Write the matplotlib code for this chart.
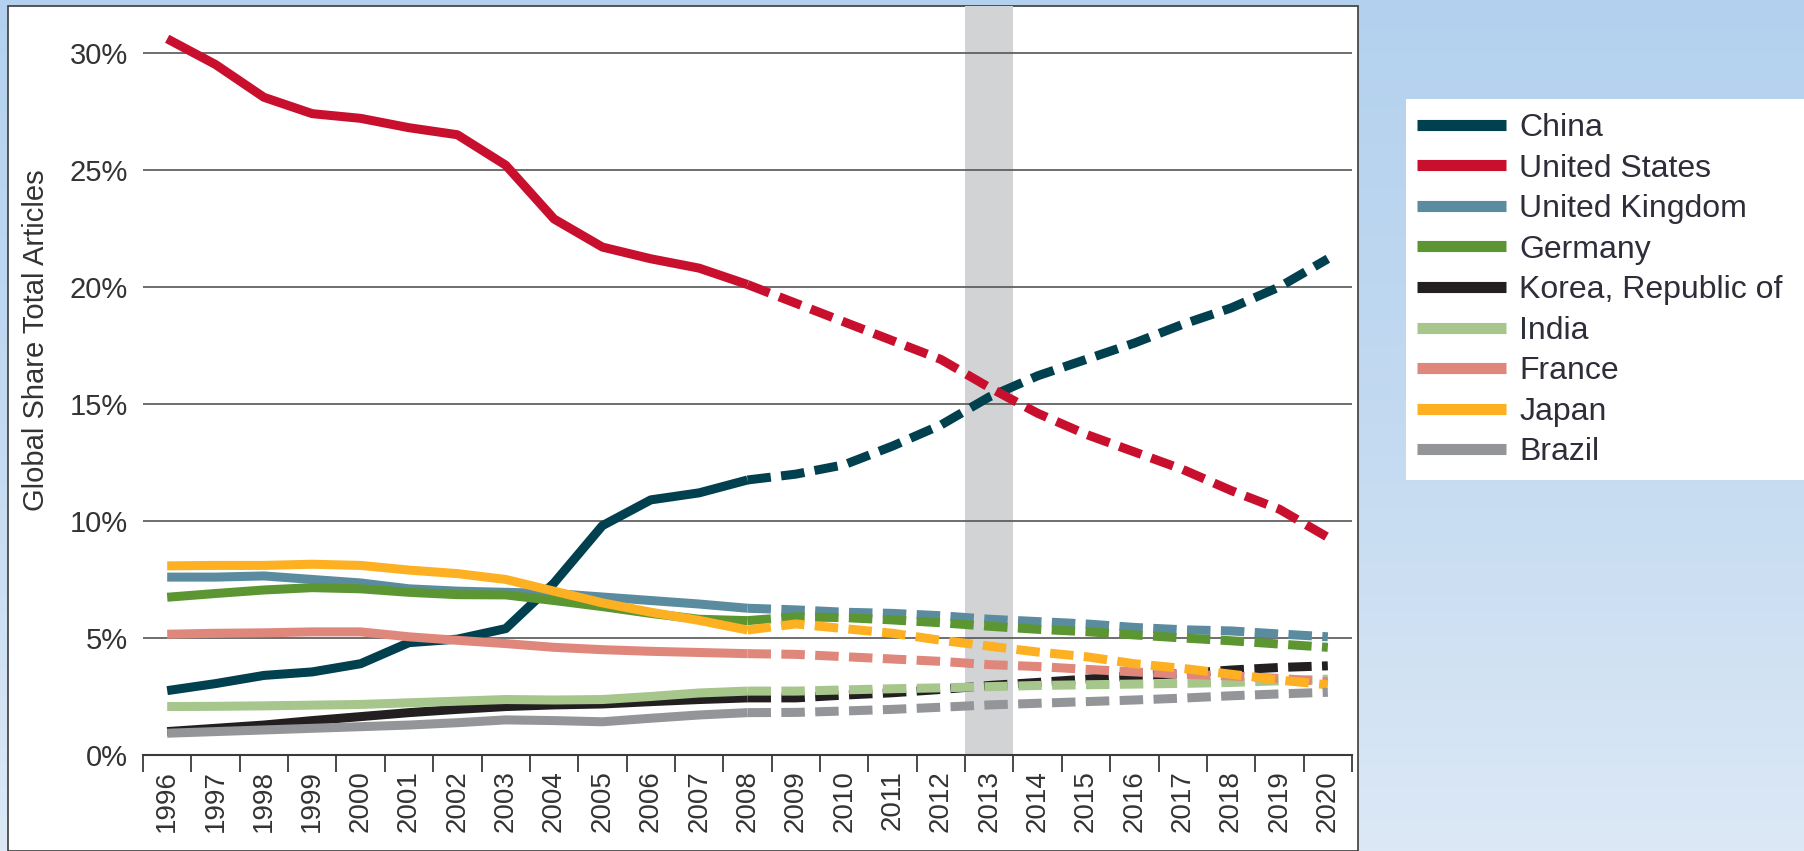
import numpy as np
import matplotlib
matplotlib.use("Agg")
import matplotlib.pyplot as plt
from matplotlib.colors import LinearSegmentedColormap
from matplotlib.patches import Rectangle

plt.rcParams["font.family"] = ["Liberation Sans", "DejaVu Sans"]

# Data: global share of total articles (%), 1996-2008 actual, 2008-2020 projected
years = [str(y) for y in range(1996, 2021)]
countries = ["China", "United States", "United Kingdom", "Germany",
             "Korea, Republic of", "India", "France", "Japan", "Brazil"]

china = [2.75, 3.05, 3.4, 3.55, 3.9, 4.8, 4.95, 5.4, 7.35, 9.8, 10.9, 11.2, 11.75,
         12.0, 12.4, 13.2, 14.1, 15.3, 16.2, 16.9, 17.6, 18.4, 19.1, 20.0, 21.2]
usa = [30.6, 29.5, 28.1, 27.4, 27.2, 26.8, 26.5, 25.2, 22.9, 21.7, 21.2, 20.8, 20.1,
       19.3, 18.5, 17.7, 16.9, 15.7, 14.6, 13.7, 12.95, 12.2, 11.3, 10.5, 9.3]
uk = [7.6, 7.6, 7.65, 7.5, 7.35, 7.1, 7.0, 6.95, 6.9, 6.75, 6.6, 6.45, 6.27,
      6.2, 6.1, 6.05, 5.95, 5.8, 5.7, 5.6, 5.45, 5.35, 5.3, 5.17, 5.05]
germany = [6.74, 6.9, 7.05, 7.15, 7.1, 6.95, 6.85, 6.84, 6.6, 6.34, 6.05, 5.8, 5.74,
           5.9, 5.87, 5.77, 5.65, 5.5, 5.37, 5.27, 5.13, 5.0, 4.88, 4.74, 4.6]
korea = [1.0, 1.14, 1.28, 1.47, 1.64, 1.81, 1.95, 2.07, 2.14, 2.18, 2.28, 2.37, 2.44,
         2.44, 2.56, 2.66, 2.8, 2.97, 3.1, 3.24, 3.38, 3.48, 3.63, 3.74, 3.81]
india = [2.07, 2.08, 2.1, 2.13, 2.16, 2.23, 2.3, 2.37, 2.35, 2.37, 2.5, 2.65, 2.73,
         2.73, 2.78, 2.83, 2.87, 2.92, 2.97, 3.0, 3.03, 3.06, 3.1, 3.17, 3.24]
france = [5.16, 5.2, 5.22, 5.26, 5.26, 5.05, 4.9, 4.76, 4.6, 4.5, 4.43, 4.38, 4.33,
          4.3, 4.2, 4.1, 4.0, 3.86, 3.78, 3.66, 3.55, 3.45, 3.38, 3.27, 3.13]
japan = [8.08, 8.1, 8.1, 8.15, 8.1, 7.9, 7.75, 7.5, 7.0, 6.5, 6.1, 5.75, 5.34,
         5.6, 5.4, 5.2, 4.9, 4.65, 4.4, 4.2, 3.9, 3.7, 3.45, 3.2, 3.0]
brazil = [0.93, 1.0, 1.07, 1.14, 1.21, 1.28, 1.38, 1.5, 1.47, 1.42, 1.57, 1.71, 1.81,
          1.82, 1.88, 1.95, 2.04, 2.14, 2.21, 2.28, 2.35, 2.43, 2.53, 2.61, 2.68]

series = [china, usa, uk, germany, korea, india, france, japan, brazil]
colors = ["#00404F", "#C8102E", "#5B8B9F", "#5C9632", "#231F20",
          "#A6C68C", "#E0877C", "#FDB022", "#939598"]
last_actual = "2008"
highlight = "2013"

W, H = 1804, 851


def fx(px):
    return px / W


def fy(py):
    return 1 - py / H


fig = plt.figure(figsize=(W / 100, H / 100), dpi=100)

# light blue backdrop
bg = fig.add_axes([0, 0, 1, 1], zorder=-10)
cmap = LinearSegmentedColormap.from_list("bg", ["#B3D1EE", "#C3DAF1", "#DCE8F6"])
bg.imshow(np.linspace(0, 1, 256).reshape(-1, 1), aspect="auto", cmap=cmap,
          extent=[0, 1, 0, 1])
bg.set_axis_off()

# white chart panel and legend box
fig.patches.append(Rectangle((fx(8), 0), fx(1358) - fx(8), fy(6), transform=fig.transFigure,
                             fc="white", ec="#3C3C3C", lw=1.2, zorder=-5))
fig.patches.append(Rectangle((fx(1406), fy(480)), 1 - fx(1406), fy(99) - fy(480),
                             transform=fig.transFigure, fc="white", ec="none", zorder=-5))

ax = fig.add_axes([fx(143), fy(755), fx(1352) - fx(143), fy(6) - fy(755)])
ax.set_facecolor("none")

x = np.arange(len(years))
split = years.index(last_actual)
hi = years.index(highlight)

ax.axvspan(hi - 0.5, hi + 0.5, color="#D1D3D4", lw=0, zorder=0.2)

for i, (name, vals, c) in enumerate(zip(countries, series, colors)):
    v = np.array(vals)
    ax.plot(x[:split + 1], v[:split + 1], color=c, lw=6.5, solid_capstyle="butt",
            solid_joinstyle="round", zorder=2 + i, label=name)
    ax.plot(x[split:], v[split:], color=c, lw=6.5, dashes=(2.6, 1.15),
            dash_capstyle="butt", zorder=2 + i)

ax.set_xlim(-0.5, len(years) - 0.5)
ax.set_ylim(0, 32.0)
ax.set_yticks(range(0, 31, 5))
ax.set_yticklabels([f"{v}%" for v in range(0, 31, 5)])
ax.set_xticks(x)
ax.set_xticklabels(years, rotation=90)
ax.set_xticks(np.arange(-0.5, len(years)), minor=True)

ax.grid(axis="y", color="#555555", lw=1.2)
ax.set_axisbelow(True)
for s in ["left", "right", "top"]:
    ax.spines[s].set_visible(False)
ax.spines["bottom"].set_color("#3A3A3A")
ax.spines["bottom"].set_linewidth(1.5)

ax.tick_params(axis="y", length=0, pad=11, labelsize=21, labelcolor="#333333")
ax.tick_params(axis="x", which="major", length=0, pad=11, labelsize=20,
               labelcolor="#333333")
ax.tick_params(axis="x", which="minor", length=12, width=1.3, color="#3A3A3A")

fig.text(fx(36), fy(340), "Global Share Total Articles", rotation=90, ha="center",
         va="center", fontsize=21, color="#333333")

handles, labels = ax.get_legend_handles_labels()
fig.legend(handles, labels, loc="upper left", bbox_to_anchor=(fx(1417), fy(113)),
           frameon=False, fontsize=23, handlelength=2.8, handletextpad=0.4,
           labelspacing=0.33, borderpad=0, borderaxespad=0, labelcolor="#2E2E3A")
for h in fig.legends[0].get_lines():
    h.set_linewidth(8)

fig.savefig("out.png", dpi=100)
